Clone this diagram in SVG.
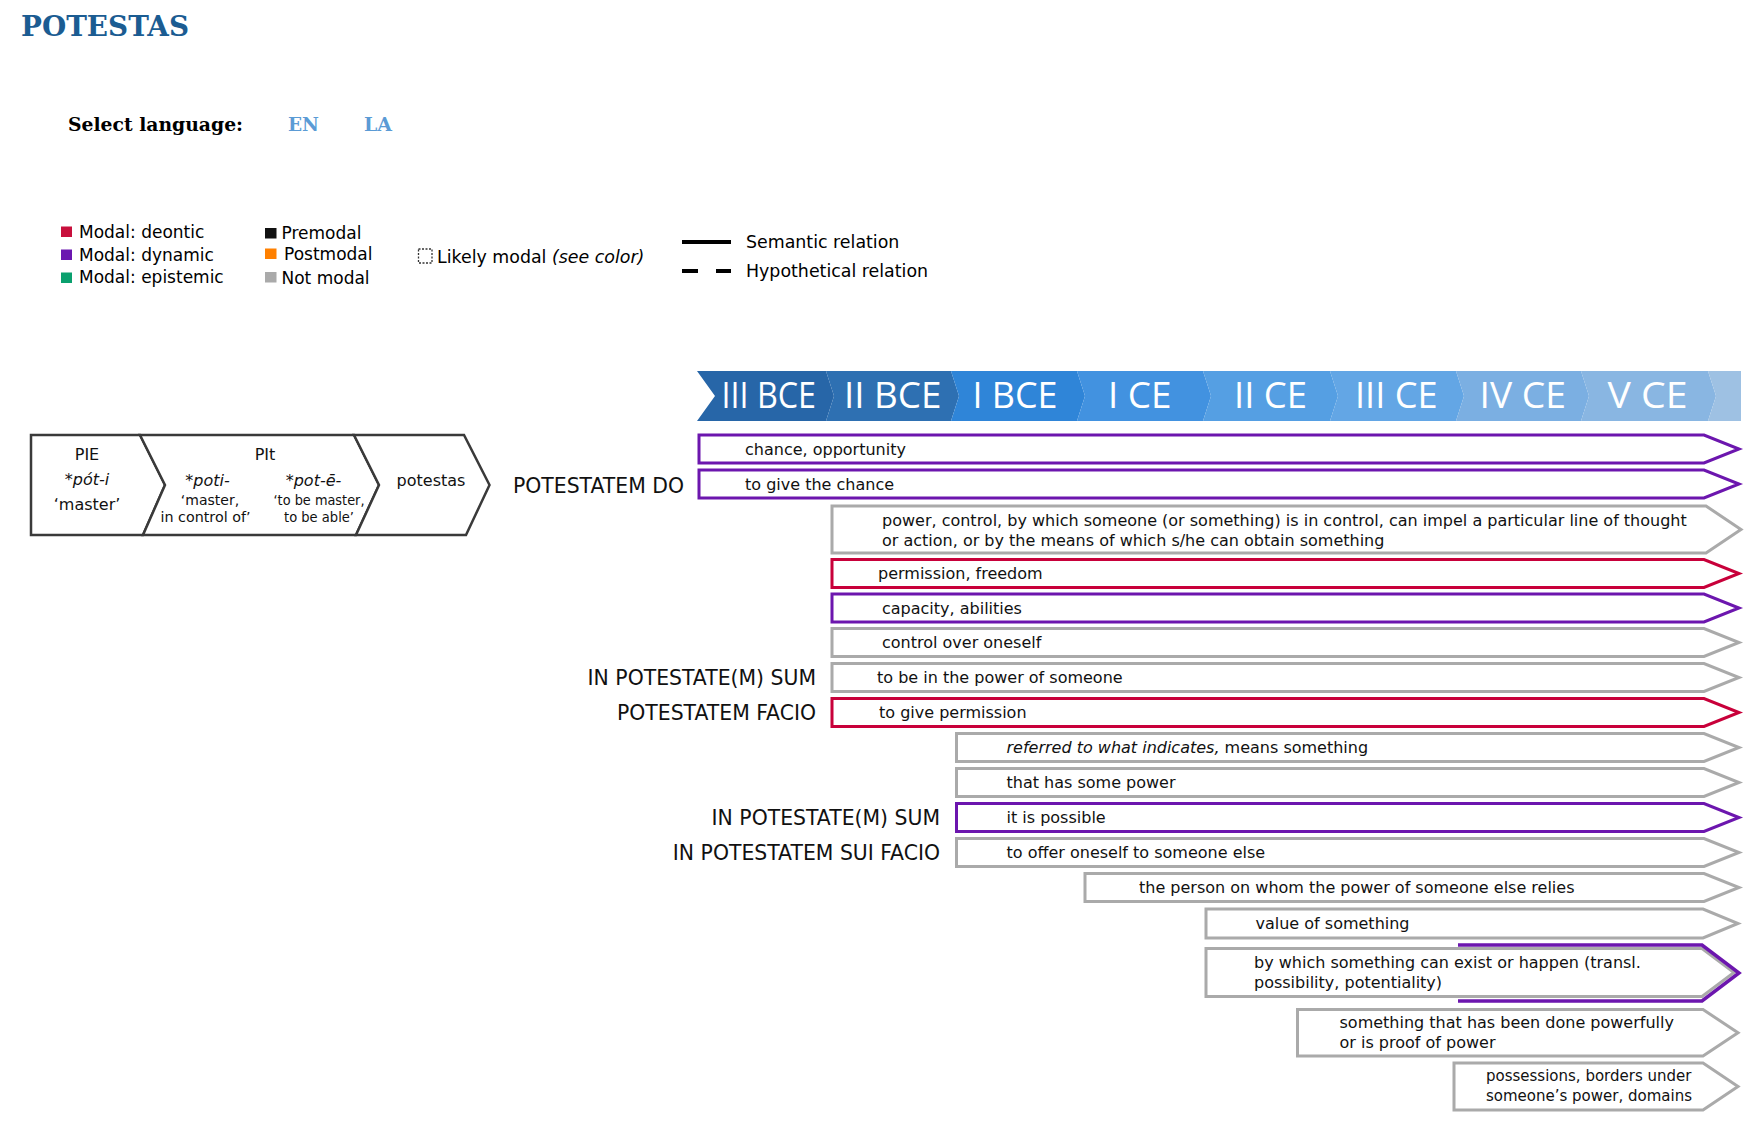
<svg xmlns="http://www.w3.org/2000/svg" width="1751" height="1123" viewBox="0 0 1751 1123">
<style>
  .serifb { font-family: "DejaVu Serif", "Liberation Serif", serif; font-weight: bold; }
  .leg { font-family: "DejaVu Sans", Verdana, sans-serif; font-size: 17px; fill: #000; }
  .leg2 { font-family: "DejaVu Sans", Verdana, sans-serif; font-size: 17.4px; fill: #000; }
  .tl { font-family: "Open Sans", "DejaVu Sans", sans-serif; font-size: 36px; fill: #fff; }
  .box { fill: #fff; stroke-width: 3; stroke-linejoin: miter; }
  .purple { stroke: #6c16ae; }
  .red { stroke: #c8003a; }
  .gray { stroke: #aaaaaa; }
  .bt { font-family: "DejaVu Sans", Verdana, sans-serif; font-size: 16px; fill: #111; }
  .bt15 { font-family: "DejaVu Sans", Verdana, sans-serif; font-size: 15px; fill: #111; }
  .rl { font-family: "DejaVu Sans", Verdana, sans-serif; font-size: 20.4px; fill: #111; text-anchor: end; }
  .ety { fill: #fff; stroke: #3a3a3a; stroke-width: 2.5; stroke-linejoin: miter; }
  .et { font-family: "DejaVu Sans", Verdana, sans-serif; font-size: 16px; fill: #111; text-anchor: middle; }
  .et14 { font-family: "DejaVu Sans", Verdana, sans-serif; font-size: 14px; fill: #111; text-anchor: middle; }
  .et13 { font-family: "DejaVu Sans", Verdana, sans-serif; font-size: 13.5px; fill: #111; text-anchor: middle; }
</style>
<rect width="1751" height="1123" fill="#fff"/>

<g id="header">
  <text class="serifb" x="21" y="36" font-size="28.5" fill="#1b5c92" textLength="168" lengthAdjust="spacingAndGlyphs">POTESTAS</text>
  <text class="serifb" x="68" y="131" font-size="18.5" fill="#000" textLength="175" lengthAdjust="spacingAndGlyphs">Select language:</text>
  <text class="serifb" x="288" y="131" font-size="18.5" fill="#5b9bd5" textLength="31" lengthAdjust="spacingAndGlyphs">EN</text>
  <text class="serifb" x="364" y="131" font-size="18.5" fill="#5b9bd5" textLength="28" lengthAdjust="spacingAndGlyphs">LA</text>
</g>

<g id="legend">
  <rect x="61" y="226.5" width="11" height="10.5" fill="#c8103c"/>
  <text class="leg" x="79" y="237.5">Modal: deontic</text>
  <rect x="61" y="249.5" width="11" height="10.5" fill="#6b17b0"/>
  <text class="leg" x="79" y="260.5">Modal: dynamic</text>
  <rect x="61" y="272.5" width="11" height="10.5" fill="#0aa06e"/>
  <text class="leg" x="79" y="283">Modal: epistemic</text>
  <rect x="265" y="228" width="11.5" height="10.5" fill="#111"/>
  <text class="leg" x="281.5" y="239">Premodal</text>
  <rect x="265" y="248.5" width="11.5" height="10.5" fill="#ff8000"/>
  <text class="leg" x="284" y="260">Postmodal</text>
  <rect x="265" y="272" width="11.5" height="10.5" fill="#aaaaaa"/>
  <text class="leg" x="281.5" y="283.5">Not modal</text>
  <rect x="418.5" y="249" width="13.5" height="14" fill="none" stroke="#333" stroke-width="1.3" stroke-dasharray="2,1.5"/>
  <text class="leg2" x="437" y="262.5">Likely modal <tspan font-style="italic">(see color)</tspan></text>
  <line x1="682" y1="242" x2="731" y2="242" stroke="#000" stroke-width="4"/>
  <text class="leg2" x="746" y="247.5">Semantic relation</text>
  <line x1="682" y1="271" x2="698" y2="271" stroke="#000" stroke-width="4"/>
  <line x1="716" y1="271" x2="731" y2="271" stroke="#000" stroke-width="4"/>
  <text class="leg2" x="746" y="276.5">Hypothetical relation</text>
</g>

<g id="timeline">
  <polygon points="697,371 826,371 834,396 826,421 697,421 715,396" fill="#2766a8"/>
  <polygon points="826,371 951,371 959,396 951,421 826,421 834,396" fill="#2e70b2"/>
  <polygon points="951,371 1077,371 1085,396 1077,421 951,421 959,396" fill="#2f85d8"/>
  <polygon points="1077,371 1203,371 1211,396 1203,421 1077,421 1085,396" fill="#4292e0"/>
  <polygon points="1203,371 1330,371 1338,396 1330,421 1203,421 1211,396" fill="#559fe3"/>
  <polygon points="1330,371 1456,371 1464,396 1456,421 1330,421 1338,396" fill="#63a6e5"/>
  <polygon points="1456,371 1581,371 1589,396 1581,421 1456,421 1464,396" fill="#7bafe2"/>
  <polygon points="1581,371 1708,371 1716,396 1708,421 1581,421 1589,396" fill="#89b6e2"/>
  <polygon points="1708,371 1741,371 1741,421 1708,421 1716,396" fill="#9ec1e3"/>
  <text class="tl" x="721.5" y="407.5" textLength="94.5" lengthAdjust="spacingAndGlyphs">III BCE</text>
  <text class="tl" x="844" y="407.5" textLength="97.5" lengthAdjust="spacingAndGlyphs">II BCE</text>
  <text class="tl" x="972.5" y="407.5" textLength="85" lengthAdjust="spacingAndGlyphs">I BCE</text>
  <text class="tl" x="1108" y="407.5" textLength="63.5" lengthAdjust="spacingAndGlyphs">I CE</text>
  <text class="tl" x="1234" y="407.5" textLength="73" lengthAdjust="spacingAndGlyphs">II CE</text>
  <text class="tl" x="1355" y="407.5" textLength="82.5" lengthAdjust="spacingAndGlyphs">III CE</text>
  <text class="tl" x="1479.5" y="407.5" textLength="86.5" lengthAdjust="spacingAndGlyphs">IV CE</text>
  <text class="tl" x="1607.5" y="407.5" textLength="80" lengthAdjust="spacingAndGlyphs">V CE</text>
</g>

<g id="etymology">
  <g id="node-pie">
    <polygon class="ety" points="31,435 140,435 165,485 143,535 31,535"/>
    <text class="et" x="87" y="459.5">PIE</text>
    <text class="et" x="87" y="485" font-style="italic">*pót-i</text>
    <text class="et" x="87" y="510">‘master’</text>
  </g>
  <g id="node-pit">
    <polygon class="ety" points="140,435 354,435 379,485 356,535 143,535 165,485"/>
    <text class="et" x="265" y="459.5">PIt</text>
    <text class="et" x="207.5" y="486" font-style="italic">*poti-</text>
    <text class="et14" x="210" y="505">‘master,</text>
    <text class="et14" x="205.5" y="521.5" textLength="90" lengthAdjust="spacingAndGlyphs">in control of’</text>
    <text class="et" x="313.5" y="486" font-style="italic">*pot-ē-</text>
    <text class="et13" x="319" y="505" textLength="91" lengthAdjust="spacingAndGlyphs">‘to be master,</text>
    <text class="et13" x="319" y="521.5" textLength="70" lengthAdjust="spacingAndGlyphs">to be able’</text>
  </g>
  <g id="node-potestas">
    <polygon class="ety" points="354,435 464,435 489.5,485 466,535 356,535 379,485"/>
    <text class="et" x="431" y="486">potestas</text>
  </g>
</g>

<g id="row-labels">
  <text class="rl" x="684" y="492.5">POTESTATEM DO</text>
  <text class="rl" x="816" y="684.5">IN POTESTATE(M) SUM</text>
  <text class="rl" x="816" y="719.5">POTESTATEM FACIO</text>
  <text class="rl" x="940" y="824.5">IN POTESTATE(M) SUM</text>
  <text class="rl" x="940" y="859.5">IN POTESTATEM SUI FACIO</text>
</g>

<g id="senses">
  <g id="s01"><polygon class="box purple" points="699,435 1704,435 1739,449 1704,463 699,463"/>
    <text class="bt" x="745" y="454.5">chance, opportunity</text></g>
  <g id="s02"><polygon class="box purple" points="699,470 1704,470 1739,484 1704,498 699,498"/>
    <text class="bt" x="745" y="489.5">to give the chance</text></g>
  <g id="s03"><polygon class="box gray" points="832,506 1706,506 1741,529.5 1706,553 832,553"/>
    <text class="bt" x="882" y="525.5">power, control, by which someone (or something) is in control, can impel a particular line of thought</text>
    <text class="bt" x="882" y="545.5">or action, or by the means of which s/he can obtain something</text></g>
  <g id="s04"><polygon class="box red" points="832,559.5 1704,559.5 1739,573.5 1704,587.5 832,587.5"/>
    <text class="bt" x="878" y="579">permission, freedom</text></g>
  <g id="s05"><polygon class="box purple" points="832,594 1704,594 1739,608 1704,622 832,622"/>
    <text class="bt" x="882" y="613.5">capacity, abilities</text></g>
  <g id="s06"><polygon class="box gray" points="832,628.5 1704,628.5 1739,642.5 1704,656.5 832,656.5"/>
    <text class="bt" x="882" y="648">control over oneself</text></g>
  <g id="s07"><polygon class="box gray" points="832,663.5 1704,663.5 1739,677.5 1704,691.5 832,691.5"/>
    <text class="bt" x="877" y="683">to be in the power of someone</text></g>
  <g id="s08"><polygon class="box red" points="832,698.5 1704,698.5 1739,712.5 1704,726.5 832,726.5"/>
    <text class="bt" x="879" y="718">to give permission</text></g>
  <g id="s09"><polygon class="box gray" points="956.5,733.5 1704,733.5 1739,747.5 1704,761.5 956.5,761.5"/>
    <text class="bt" x="1006.5" y="753"><tspan font-style="italic">referred to what indicates,</tspan> means something</text></g>
  <g id="s10"><polygon class="box gray" points="956.5,768.5 1704,768.5 1739,782.5 1704,796.5 956.5,796.5"/>
    <text class="bt" x="1006.5" y="788">that has some power</text></g>
  <g id="s11"><polygon class="box purple" points="956.5,803.5 1704,803.5 1739,817.5 1704,831.5 956.5,831.5"/>
    <text class="bt" x="1006.5" y="823">it is possible</text></g>
  <g id="s12"><polygon class="box gray" points="956.5,838.5 1704,838.5 1739,852.5 1704,866.5 956.5,866.5"/>
    <text class="bt" x="1006.5" y="858">to offer oneself to someone else</text></g>
  <g id="s13"><polygon class="box gray" points="1085,873.5 1704,873.5 1739,887.5 1704,901.5 1085,901.5"/>
    <text class="bt" x="1139" y="893">the person on whom the power of someone else relies</text></g>
  <g id="s14"><polygon class="box gray" points="1206,909 1703,909 1738,923.5 1703,938 1206,938"/>
    <text class="bt" x="1255.5" y="928.5">value of something</text></g>
  <g id="s15"><polygon class="box gray" points="1206,948.5 1702,948.5 1734,972.5 1702,996.5 1206,996.5"/>
    <polyline points="1458,945 1702,945 1739,973 1702,1001 1458,1001" fill="none" stroke="#6c16ae" stroke-width="3.5" stroke-linejoin="miter"/>
    <text class="bt" x="1254" y="968">by which something can exist or happen (transl.</text>
    <text class="bt" x="1254" y="988">possibility, potentiality)</text></g>
  <g id="s16"><polygon class="box gray" points="1297.5,1009.5 1703,1009.5 1738,1032.75 1703,1056 1297.5,1056"/>
    <text class="bt" x="1339.5" y="1027.5">something that has been done powerfully</text>
    <text class="bt" x="1339.5" y="1047.5">or is proof of power</text></g>
  <g id="s17"><polygon class="box gray" points="1454,1063 1703,1063 1738,1086.5 1703,1110 1454,1110"/>
    <text class="bt15" x="1486" y="1081">possessions, borders under</text>
    <text class="bt15" x="1486" y="1101">someone’s power, domains</text></g>
</g>

<g id="connectors"/>
</svg>
